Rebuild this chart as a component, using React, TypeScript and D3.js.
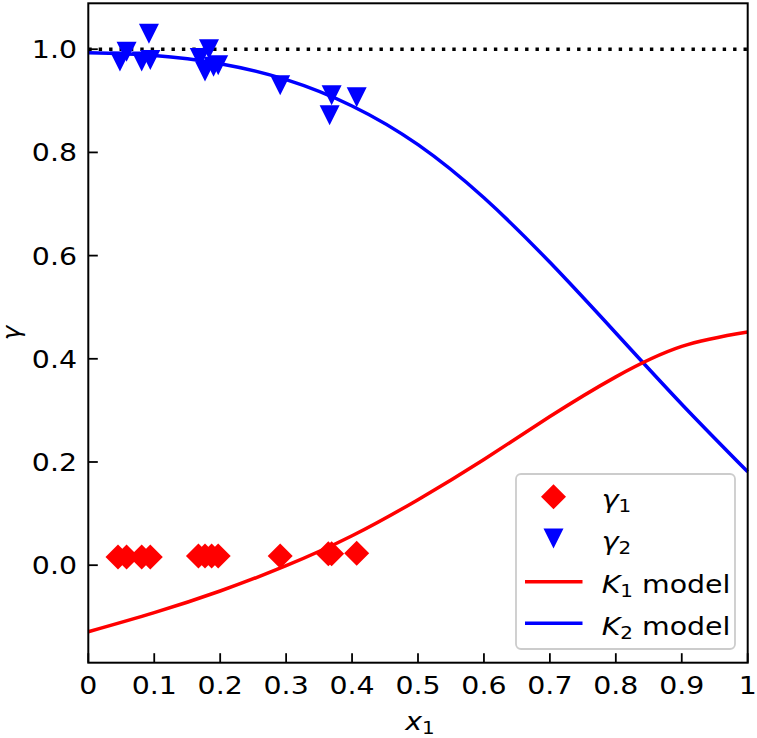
import React from "react";
import * as d3 from "d3";

// Measured activity coefficients
const gamma1X = [0.045, 0.058, 0.081, 0.094, 0.167, 0.177, 0.187, 0.197, 0.291, 0.364, 0.369, 0.407];
const gamma1Y = [0.016, 0.016, 0.016, 0.016, 0.018, 0.018, 0.018, 0.018, 0.018, 0.022, 0.022, 0.023];

const gamma2X = [0.048, 0.058, 0.081, 0.092, 0.094, 0.169, 0.177, 0.183, 0.19, 0.197, 0.291, 0.366, 0.369, 0.407];
const gamma2Y = [0.976, 0.995, 0.976, 1.03, 0.979, 0.983, 0.957, 1.0, 0.966, 0.969, 0.93, 0.872, 0.911, 0.907];

// Model curves sampled on the composition grid
const modelX = [0, 0.1, 0.2, 0.3, 0.4, 0.5, 0.6, 0.7, 0.8, 0.9, 1.0];
const k1Model = [-0.129, -0.092, -0.05, -0.001, 0.057, 0.127, 0.205, 0.288, 0.365, 0.424, 0.452];
const k2Model = [0.993, 0.988, 0.972, 0.941, 0.89, 0.815, 0.712, 0.587, 0.45, 0.312, 0.181];

const xTicks = [0, 0.1, 0.2, 0.3, 0.4, 0.5, 0.6, 0.7, 0.8, 0.9, 1];
const xTickLabels = ["0", "0.1", "0.2", "0.3", "0.4", "0.5", "0.6", "0.7", "0.8", "0.9", "1"];
const yTicks = [0, 0.2, 0.4, 0.6, 0.8, 1.0];
const yTickLabels = ["0.0", "0.2", "0.4", "0.6", "0.8", "1.0"];

const W = 757;
const H = 738;
const L = 88.3;
const R = 747.7;
const T = 3.3;
const B = 662.7;
const FONT = "DejaVu Sans";
const FS = 24.5;
const SX = 1.16; // glyphs are drawn slightly wide
const RED = "#ff0000";
const BLUE = "#0000ff";
const LW = 3.5;

const x = d3.scaleLinear().domain([0, 1]).range([L, R]);
const y = d3.scaleLinear().domain([-0.189, 1.089]).range([B, T]);

const line = d3
  .line<number>()
  .x((_, i) => x(modelX[i]))
  .y((d) => y(d))
  .curve(d3.curveNatural);

const diamond = (cx: number, cy: number, r: number) =>
  `M${cx},${cy - r}L${cx + r},${cy}L${cx},${cy + r}L${cx - r},${cy}Z`;
const triDown = (cx: number, cy: number, s: number) =>
  `M${cx - s / 2},${cy - s / 2}L${cx + s / 2},${cy - s / 2}L${cx},${cy + s / 2}Z`;

const DR = 12.5;
const TS = 20;

function Sub({ base, sub, italic = true }: { base: string; sub: string; italic?: boolean }) {
  return (
    <>
      <tspan fontStyle={italic ? "italic" : "normal"}>{base}</tspan>
      <tspan fontSize={FS * 0.7} dy={4}>{sub}</tspan>
    </>
  );
}

function Txt({
  x: tx,
  y: ty,
  anchor = "start",
  rotate = 0,
  italic = false,
  children,
}: {
  x: number;
  y: number;
  anchor?: "start" | "middle" | "end";
  rotate?: number;
  italic?: boolean;
  children: React.ReactNode;
}) {
  return (
    <text
      transform={`translate(${tx},${ty}) rotate(${rotate}) scale(${SX},1)`}
      fontSize={FS}
      textAnchor={anchor}
      fontStyle={italic ? "italic" : "normal"}
      fill="#000"
    >
      {children}
    </text>
  );
}

export default function App() {
  const legendRows = [
    { kind: "d", y: 496.7, label: <Sub base="γ" sub="1" /> },
    { kind: "t", y: 538.5, label: <Sub base="γ" sub="2" /> },
    { kind: "lr", y: 581.7, label: <><Sub base="K" sub="1" /><tspan dy={-4}> model</tspan></> },
    { kind: "lb", y: 623.3, label: <><Sub base="K" sub="2" /><tspan dy={-4}> model</tspan></> },
  ];

  return (
    <svg
      width={W}
      height={H}
      style={{ position: "absolute", left: 0, top: 0, background: "#fff" }}
      fontFamily={FONT}
    >
      <rect x={0} y={0} width={W} height={H} fill="#fff" />

      {/* reference line at gamma = 1 */}
      <line
        x1={x(0)}
        x2={x(1)}
        y1={y(1)}
        y2={y(1)}
        stroke="#000"
        strokeWidth={3.4}
        strokeDasharray="3.4 7"
      />

      {/* model curves */}
      <path d={line(k2Model) ?? ""} fill="none" stroke={BLUE} strokeWidth={LW} />
      <path d={line(k1Model) ?? ""} fill="none" stroke={RED} strokeWidth={LW} />

      {/* data markers */}
      {gamma1X.map((v, i) => (
        <path key={"g1" + i} d={diamond(x(v), y(gamma1Y[i]), DR)} fill={RED} />
      ))}
      {gamma2X.map((v, i) => (
        <path key={"g2" + i} d={triDown(x(v), y(gamma2Y[i]), TS)} fill={BLUE} />
      ))}

      {/* frame */}
      <rect x={L} y={T} width={R - L} height={B - T} fill="none" stroke="#000" strokeWidth={2} />

      {/* x ticks */}
      {xTicks.map((t, i) => (
        <g key={"xt" + i}>
          <line x1={x(t)} x2={x(t)} y1={B} y2={B - 9.5} stroke="#000" strokeWidth={1.8} />
          <Txt x={x(t)} y={693.5} anchor="middle">
            {xTickLabels[i]}
          </Txt>
        </g>
      ))}

      {/* y ticks */}
      {yTicks.map((t, i) => (
        <g key={"yt" + i}>
          <line x1={L} x2={L + 9.5} y1={y(t)} y2={y(t)} stroke="#000" strokeWidth={1.8} />
          <Txt x={77} y={y(t) + 9} anchor="end">
            {yTickLabels[i]}
          </Txt>
        </g>
      ))}

      {/* axis labels */}
      <Txt x={(L + R) / 2 + 2} y={730} anchor="middle">
        <Sub base="x" sub="1" />
      </Txt>
      <text
        transform={`translate(20, ${(T + B) / 2}) rotate(-90)`}
        fontSize={FS}
        textAnchor="middle"
        fontStyle="italic"
        fill="#000"
      >
        γ
      </text>

      {/* legend */}
      <rect
        x={516}
        y={474}
        width={219}
        height={175}
        rx={5}
        fill="#fff"
        fillOpacity={0.8}
        stroke="#cccccc"
        strokeWidth={1.8}
      />
      {legendRows.map((r, i) => (
        <g key={"lg" + i}>
          {r.kind === "d" && <path d={diamond(553.5, r.y, DR)} fill={RED} />}
          {r.kind === "t" && <path d={triDown(553.5, r.y, TS)} fill={BLUE} />}
          {r.kind === "lr" && <line x1={525} x2={582.5} y1={r.y} y2={r.y} stroke={RED} strokeWidth={LW} />}
          {r.kind === "lb" && <line x1={525} x2={582.5} y1={r.y} y2={r.y} stroke={BLUE} strokeWidth={LW} />}
          <Txt x={601.7} y={r.y + 11.6}>
            {r.label}
          </Txt>
        </g>
      ))}
    </svg>
  );
}
